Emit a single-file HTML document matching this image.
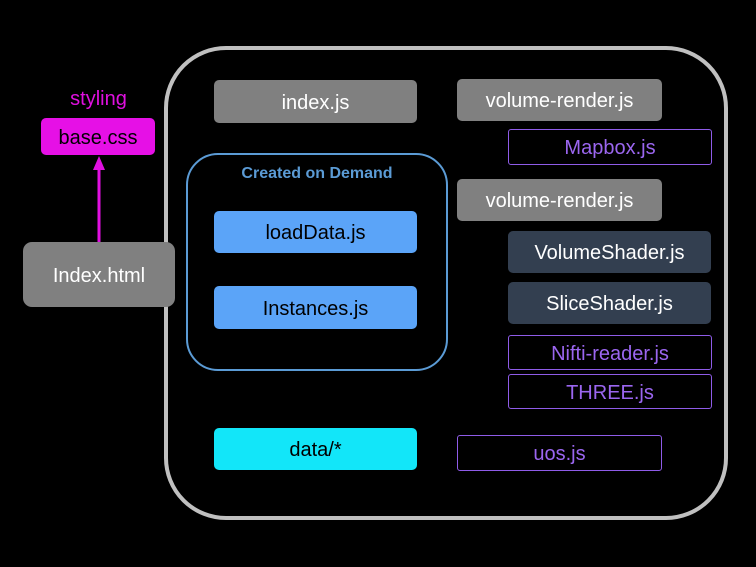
<!DOCTYPE html>
<html><head><style>
body{margin:0;width:756px;height:567px;background:#000;position:relative;overflow:hidden;font-family:"Liberation Sans",sans-serif}
.b{position:absolute;box-sizing:border-box;display:flex;align-items:center;justify-content:center;font-size:20px;border-radius:5px;padding-top:3px}
.g{background:#808080;color:#fff}
.bl{background:#5ba4f8;color:#000}
.d{background:#333f50;color:#fff}
.p{border:1px solid #8f5ce8;color:#9b66f0;background:#000;border-radius:3px}
</style></head><body>
<div style="position:absolute;left:164px;top:46px;width:564px;height:474px;box-sizing:border-box;border:4px solid #c0c0c0;border-radius:62px"></div>
<div style="position:absolute;left:186px;top:153px;width:262px;height:218px;box-sizing:border-box;border:2px solid #5b9bd5;border-radius:32px"></div>
<div style="position:absolute;left:186px;top:165px;width:262px;text-align:center;color:#5b9bd5;font-weight:bold;font-size:16px">Created on Demand</div>
<div style="position:absolute;left:41px;top:88px;width:115px;text-align:center;color:#e010e0;font-size:20px">styling</div>
<div class="b" style="left:41px;top:118px;width:114px;height:37px;background:#e610e6;color:#000">base.css</div>
<svg style="position:absolute;left:0;top:0" width="756" height="567"><line x1="99" y1="242" x2="99" y2="168" stroke="#e010e0" stroke-width="3"/><polygon points="93,170 105,170 99,156" fill="#e010e0"/></svg>
<div class="b g" style="left:23px;top:242px;width:152px;height:65px;border-radius:9px;font-size:20px">Index.html</div>
<div class="b g" style="left:214px;top:80px;width:203px;height:43px">index.js</div>
<div class="b g" style="left:457px;top:79px;width:205px;height:42px">volume-render.js</div>
<div class="b p" style="left:508px;top:129px;width:204px;height:36px">Mapbox.js</div>
<div class="b bl" style="left:214px;top:211px;width:203px;height:42px">loadData.js</div>
<div class="b bl" style="left:214px;top:286px;width:203px;height:43px">Instances.js</div>
<div class="b g" style="left:457px;top:179px;width:205px;height:42px">volume-render.js</div>
<div class="b d" style="left:508px;top:231px;width:203px;height:42px">VolumeShader.js</div>
<div class="b d" style="left:508px;top:282px;width:203px;height:42px">SliceShader.js</div>
<div class="b p" style="left:508px;top:335px;width:204px;height:35px">Nifti-reader.js</div>
<div class="b p" style="left:508px;top:374px;width:204px;height:35px">THREE.js</div>
<div class="b" style="left:214px;top:428px;width:203px;height:42px;background:#12e6f9;color:#000">data/*</div>
<div class="b p" style="left:457px;top:435px;width:205px;height:36px">uos.js</div>
</body></html>
